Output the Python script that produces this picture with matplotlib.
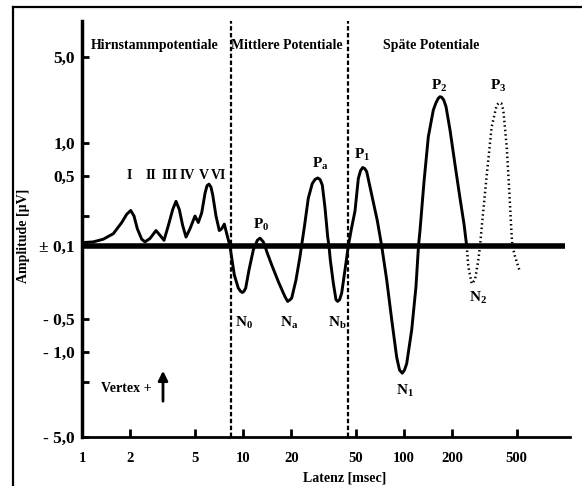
import numpy as np
import matplotlib
matplotlib.use("Agg")
import matplotlib.pyplot as plt
from matplotlib.lines import Line2D
from matplotlib.ticker import FixedLocator, FixedFormatter, NullLocator

plt.rcParams['font.family'] = ['Liberation Serif', 'DejaVu Serif']
plt.rcParams['font.weight'] = 'bold'
plt.rcParams['mathtext.fontset'] = 'custom'
plt.rcParams['mathtext.rm'] = 'Liberation Serif:bold'
plt.rcParams['mathtext.bf'] = 'Liberation Serif:bold'
plt.rcParams['mathtext.it'] = 'Liberation Serif:bold'

# ---------------- data ----------------
# solid part of the waveform: latency [ms], amplitude [uV]
lat_solid = [1.0, 1.175, 1.356, 1.565, 1.765, 1.895, 2.007, 2.104, 2.206, 2.349,
             2.462, 2.645, 2.882, 3.051, 3.231, 3.436, 3.659, 3.836, 4.022, 4.222,
             4.426, 4.687, 5.033, 5.277, 5.540, 5.808, 5.975, 6.149, 6.327, 6.483,
             6.796, 7.125, 7.374, 7.654, 7.921, 8.220, 8.30, 8.423, 8.831, 9.350,
             9.65, 9.90, 10.14, 10.39, 10.90, 11.59, 11.87, 12.27, 12.75, 13.37,
             13.70, 14.04, 15.08, 16.57, 17.80, 18.37, 18.95, 19.45, 20.07, 21.34,
             22.59, 23.09, 24.03, 25.44, 26.94, 28.0, 29.11, 30.1, 31.09, 32.31,
             33.58, 34.2, 34.85, 36.38, 37.8, 38.74, 39.8, 41.02, 43.01, 45.08,
             47.33, 49.62, 52.02, 53.7, 55.40, 57.0, 58.66, 63.01, 68.29, 72.68,
             78.07, 83.87, 90.09, 93.8, 97.6, 100.7, 103.9, 111.6, 118.7, 123.0,
             125.7, 133.1, 141.6, 152.1, 158.1, 163.3, 167.3, 171.5, 176.4, 182.4,
             193.1, 207.4, 222.7, 235.9, 245.1]
amp_solid = [0.108, 0.110, 0.117, 0.133, 0.172, 0.208, 0.227, 0.200, 0.149, 0.117,
             0.110, 0.119, 0.143, 0.128, 0.114, 0.160, 0.232, 0.280, 0.232, 0.160,
             0.123, 0.149, 0.200, 0.172, 0.215, 0.336, 0.400, 0.415, 0.387, 0.325,
             0.200, 0.143, 0.149, 0.166, 0.133, 0.106, 0.0, -0.117, -0.189, -0.253,
             -0.271, -0.279, -0.271, -0.253, -0.169, -0.109, 0.0, 0.114, 0.120, 0.110,
             0.0, -0.113, -0.152, -0.219, -0.282, -0.313, -0.339, -0.330, -0.315, -0.211,
             -0.126, 0.0, 0.154, 0.301, 0.421, 0.462, 0.478, 0.462, 0.406, 0.241,
             0.123, 0.0, -0.136, -0.226, -0.327, -0.339, -0.327, -0.282, -0.169, 0.0,
             0.154, 0.224, 0.471, 0.559, 0.598, 0.585, 0.547, 0.325, 0.179, 0.0,
             -0.211, -0.507, -1.133, -1.517, -1.631, -1.517, -1.31, -0.631, -0.244, 0.0,
             0.143, 0.438, 1.125, 1.855, 2.127, 2.308, 2.379, 2.353, 2.237, 1.973,
             1.275, 0.635, 0.301, 0.166, 0.0]

# dotted continuation (N2, P3)
lat_dot = [245.1, 250.8, 263.3, 276.1, 289.4, 296.6, 303.8, 326.4, 350.5, 376.5,
           390.7, 402.0, 413.8, 434.5, 450.9, 466.6, 472.0, 489.2, 520.1]
amp_dot = [0.0, -0.157, -0.230, -0.211, -0.136, 0.0, 0.154, 0.508, 1.357, 2.037,
           2.127, 2.10, 1.855, 0.921, 0.350, 0.123, 0.0, -0.126, -0.169]

# section boundaries [ms]
boundaries = [8.4, 45.0]
sections = ['Hirnstammpotentiale', 'Mittlere Potentiale', 'Späte Potentiale']

x_ticks = [1, 2, 5, 10, 20, 50, 100, 200, 500]
x_labels = ['1', '2', '5', '10', '20', '50', '100', '200', '500']
y_ticks = [-5.0, -2.0, -1.0, -0.5, 0.1, 0.2, 0.5, 1.0, 5.0]
y_labels = ['- 5,0', '', '- 1,0', '- 0,5', '± 0,1', '', '0,5', '1,0', '5,0']

peak_labels = ['I', 'II', 'III', 'IV', 'V', 'VI']
wave_labels = [r'$\mathrm{P_0}$', r'$\mathrm{P_a}$', r'$\mathrm{P_1}$', r'$\mathrm{P_2}$',
               r'$\mathrm{P_3}$', r'$\mathrm{N_0}$', r'$\mathrm{N_a}$', r'$\mathrm{N_b}$',
               r'$\mathrm{N_1}$', r'$\mathrm{N_2}$']

# ---------------- hand-drawn amplitude scale ----------------
POS_LOG = [-1.0, -0.699, -0.301, 0.0, 0.699, 1.0]
POS_PX = [0.0, 30.0, 70.0, 103.0, 189.0, 225.0]
NEG_LOG = [-1.0, -0.301, 0.0, 0.301, 0.699]
NEG_PX = [0.0, 73.0, 106.0, 136.0, 191.0]


def _fwd(v):
    v = np.asarray(v, dtype=float)
    la = np.log10(np.clip(np.abs(v), 1e-3, None))
    pos = np.interp(la, POS_LOG, POS_PX)
    neg = -np.interp(la, NEG_LOG, NEG_PX)
    return np.where(v >= 0, pos, neg)


def _inv(t):
    t = np.asarray(t, dtype=float)
    a = np.abs(t)
    pos = 10 ** np.interp(a, POS_PX, POS_LOG)
    neg = -(10 ** np.interp(a, NEG_PX, NEG_LOG))
    return np.where(t >= 0, pos, neg)


# ---------------- figure ----------------
W, H = 582, 486
fig = plt.figure(figsize=(W / 100, H / 100), dpi=100)
ax = fig.add_axes([82 / W, 1 - 437 / H, 488 / W, 416 / H])

# outer frame (left + top)
fig.add_artist(Line2D([13 / W, 13 / W], [0, 1 - 7 / H], transform=fig.transFigure,
                      color='black', lw=1.6))
fig.add_artist(Line2D([13 / W, 1], [1 - 7 / H, 1 - 7 / H], transform=fig.transFigure,
                      color='black', lw=1.6))

ax.set_xscale('log')
ax.set_yscale('function', functions=(_fwd, _inv))
ax.set_xlim(1, 1074)
ax.set_ylim(-5.0, 10.0)

# baseline
ax.hlines(0.0, 1, 1000, color='black', lw=4.0, zorder=2)
# section separators
for b in boundaries:
    ax.axvline(b, color='black', lw=1.6, ls=(0, (2.0, 1.1)), zorder=1)

ax.plot(lat_solid, amp_solid, color='black', lw=2.1, solid_joinstyle='round',
        solid_capstyle='round', zorder=3)
ax.plot(lat_dot, amp_dot, color='black', lw=1.8, ls=(0, (0.6, 1.2)), zorder=3)

# axes styling
for s in ['top', 'right']:
    ax.spines[s].set_visible(False)
ax.spines['left'].set_linewidth(2.5)
ax.spines['bottom'].set_linewidth(2.0)

ax.xaxis.set_major_locator(FixedLocator(x_ticks))
ax.xaxis.set_major_formatter(FixedFormatter(x_labels))
ax.xaxis.set_minor_locator(NullLocator())
ax.yaxis.set_major_locator(FixedLocator(y_ticks))
ax.yaxis.set_major_formatter(FixedFormatter(y_labels))
ax.yaxis.set_minor_locator(NullLocator())
ax.tick_params(axis='x', direction='in', length=6, width=2, pad=11, labelsize=10.5)
ax.tick_params(axis='y', direction='in', length=5, width=2, pad=5, labelsize=12.5)
for lab in ax.get_xticklabels() + ax.get_yticklabels():
    lab.set_fontweight('bold')

ax.set_xlabel('Latenz [msec]', fontsize=10, fontweight='bold')
ax.xaxis.set_label_coords((345 - 82) / 488, (437 - 472) / 416)
ax.set_ylabel('Amplitude [µV]', fontsize=10, fontweight='bold')
ax.yaxis.set_label_coords((30 - 82) / 488, (437 - 236) / 416)


def place(txt, px, py, size=10):
    ax.text((px - 82) / 488, (437 - py) / 416, txt, transform=ax.transAxes,
            ha='center', va='center', fontsize=size, fontweight='bold')


# section titles
for txt, px in zip(sections, [155, 287, 431]):
    place(txt, px, 45, 10)

# brainstem peak numerals
for txt, px in zip(peak_labels, [129, 151, 170, 187, 204, 219]):
    place(txt, px, 175, 10)

# wave labels
wave_pos = [(261, 225), (320, 164), (362, 155), (439, 86), (498, 86),
            (244, 323), (289, 323), (337, 323), (405, 391), (478, 298)]
for txt, (px, py) in zip(wave_labels, wave_pos):
    place(txt, px, py, 11)

# Vertex + arrow
place('Vertex +', 126, 389, 10)
ax.annotate('', xy=((163 - 82) / 488, (437 - 368) / 416),
            xytext=((163 - 82) / 488, (437 - 404) / 416),
            xycoords='axes fraction', textcoords='axes fraction',
            arrowprops=dict(arrowstyle='-|>', lw=2.0, color='black', mutation_scale=14))

fig.savefig('out.png', dpi=100)
